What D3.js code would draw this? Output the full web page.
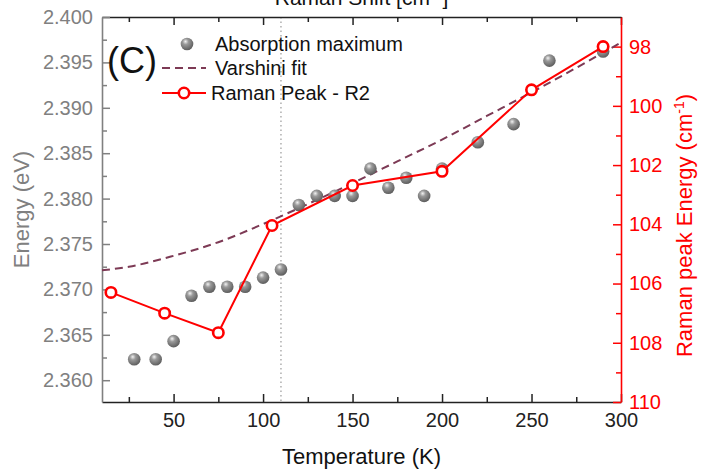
<!DOCTYPE html>
<html>
<head>
<meta charset="utf-8">
<script src="https://cdn.jsdelivr.net/npm/d3@7"></script>
<style>
  body { margin: 0; background: #fff; }
  svg { display: block; font-family: "Liberation Sans", Arial, sans-serif; }
</style>
</head>
<body>
<div id="chart"></div>
<script>
// absorption maximum (gray spheres), energy in eV
const absTemp = [28, 40, 50, 60, 70, 80, 90, 100, 110, 120, 130, 140, 150, 160, 170, 180, 190, 200, 220, 240, 260, 290];
const absEnergy = [2.3623, 2.3623, 2.3643, 2.3693, 2.3703, 2.3703, 2.3703, 2.3713, 2.3722, 2.3793, 2.3803, 2.3803, 2.3803,
  2.3833, 2.3812, 2.3823, 2.3803, 2.3833, 2.3862, 2.3882, 2.3952, 2.3962];

// Varshini fit (dashed)
const fitTemp = [10, 25, 50, 75, 100, 125, 150, 175, 200, 225, 250, 275, 300];
const fitEnergy = [2.3721, 2.3725, 2.3737, 2.3752, 2.3772, 2.3794, 2.3817, 2.3841, 2.3865, 2.3891, 2.3917, 2.3944, 2.3972];

// Raman peak R2 (right axis, cm-1)
const ramanTemp = [15, 45, 75, 105, 150, 200, 250, 290];
const ramanPeak = [106.3, 107.0, 107.66, 104.04, 102.69, 102.21, 99.46, 98.0];

const xTicks = [50, 100, 150, 200, 250, 300];
const xMinor = [25, 75, 125, 175, 225, 275];
const yTicks = [2.360, 2.365, 2.370, 2.375, 2.380, 2.385, 2.390, 2.395, 2.400];
const yMinor = [2.3625, 2.3675, 2.3725, 2.3775, 2.3825, 2.3875, 2.3925, 2.3975];
const rTicks = [98, 100, 102, 104, 106, 108, 110];
const rMinor = [99, 101, 103, 105, 107, 109];
const tempLine = 110;

const width = 701, height = 472;
const margin = {top: 17, right: 80, bottom: 70, left: 102};

const svg = d3.select("#chart").append("svg")
  .attr("width", width)
  .attr("height", height)
  .attr("viewBox", [0, 0, width, height]);

const x = d3.scaleLinear().domain([10, 300]).range([margin.left, width - margin.right]);
const y = d3.scaleLinear().domain([2.3576, 2.400]).range([height - margin.bottom, margin.top]);
const yR = d3.scaleLinear().domain([97, 110]).range([margin.top, height - margin.bottom]);

const defs = svg.append("defs");
const grad = defs.append("radialGradient")
  .attr("id", "ball").attr("cx", "40%").attr("cy", "35%").attr("r", "65%").attr("fx", "38%").attr("fy", "30%");
grad.append("stop").attr("offset", "0%").attr("stop-color", "#f2f2f2");
grad.append("stop").attr("offset", "35%").attr("stop-color", "#9a9a9a");
grad.append("stop").attr("offset", "100%").attr("stop-color", "#5e5e5e");

const x0 = margin.left, x1 = width - margin.right;
const y0 = height - margin.bottom, y1 = margin.top;

// dotted vertical marker
svg.append("line")
  .attr("x1", x(tempLine)).attr("x2", x(tempLine))
  .attr("y1", y1).attr("y2", y0)
  .attr("stroke", "#999").attr("stroke-width", 1.2)
  .attr("stroke-dasharray", "1.5,3");

// axes helper: draw major + minor ticks
function drawAxis(axisFn, scale, major, minor, transform, color, fmt, pad) {
  const g = svg.append("g").attr("transform", transform);
  g.call(axisFn(scale).tickValues(major).tickSizeInner(-8).tickSizeOuter(0).tickPadding(pad).tickFormat(fmt));
  g.append("g").call(axisFn(scale).tickValues(minor).tickSizeInner(-5).tickSizeOuter(0).tickFormat(""))
    .call(s => s.select(".domain").remove());
  g.selectAll("line").attr("stroke", color).attr("stroke-width", 1.5);
  g.selectAll(".domain").attr("stroke", color).attr("stroke-width", 1.6);
  g.selectAll("text").attr("fill", color).attr("font-size", 20).attr("font-family", "Liberation Sans, Arial, sans-serif");
  return g;
}

drawAxis(d3.axisBottom, x, xTicks, xMinor, `translate(0,${y0})`, "#222", d3.format("d"), 11);
drawAxis(d3.axisTop, x, xTicks, xMinor, `translate(0,${y1})`, "#222", () => "", 9)
  .selectAll("text").remove();
drawAxis(d3.axisLeft, y, yTicks, yMinor, `translate(${x0},0)`, "#808080", d3.format(".3f"), 9);
drawAxis(d3.axisRight, yR, rTicks, rMinor, `translate(${x1},0)`, "#ff0000", d3.format("d"), 8);

// Varshini fit
svg.append("path")
  .datum(fitTemp.map((t, i) => [t, fitEnergy[i]]))
  .attr("fill", "none")
  .attr("stroke", "#7d3a55")
  .attr("stroke-width", 2)
  .attr("stroke-dasharray", "8,5")
  .attr("d", d3.line().curve(d3.curveMonotoneX).x(d => x(d[0])).y(d => y(d[1])));

// absorption spheres
svg.append("g").selectAll("circle")
  .data(absTemp.map((t, i) => [t, absEnergy[i]]))
  .join("circle")
  .attr("cx", d => x(d[0])).attr("cy", d => y(d[1]))
  .attr("r", 6.3).attr("fill", "url(#ball)");

// Raman line + circles
svg.append("path")
  .datum(ramanTemp.map((t, i) => [t, ramanPeak[i]]))
  .attr("fill", "none").attr("stroke", "#ff0000").attr("stroke-width", 2)
  .attr("d", d3.line().x(d => x(d[0])).y(d => yR(d[1])));
svg.append("g").selectAll("circle")
  .data(ramanTemp.map((t, i) => [t, ramanPeak[i]]))
  .join("circle")
  .attr("cx", d => x(d[0])).attr("cy", d => yR(d[1]))
  .attr("r", 5.2).attr("fill", "#fff").attr("stroke", "#ff0000").attr("stroke-width", 2.6);

// axis titles
svg.append("text")
  .attr("x", (x0 + x1) / 2).attr("y", 464)
  .attr("text-anchor", "middle").attr("font-size", 22).attr("fill", "#111")
  .text("Temperature (K)");

svg.append("text")
  .attr("transform", `translate(29,${(y0 + y1) / 2}) rotate(-90)`)
  .attr("text-anchor", "middle").attr("font-size", 22).attr("fill", "#808080")
  .text("Energy (eV)");

const rt = svg.append("text")
  .attr("transform", `translate(692,${(y0 + y1) / 2 + 16}) rotate(-90)`)
  .attr("text-anchor", "middle").attr("font-size", 22).attr("fill", "#ff0000");
rt.append("tspan").text("Raman peak Energy (cm");
rt.append("tspan").attr("dy", -8).attr("font-size", 14).text("-1");
rt.append("tspan").attr("dy", 8).text(")");

const tt = svg.append("text")
  .attr("x", (x0 + x1) / 2).attr("y", 5)
  .attr("text-anchor", "middle").attr("font-size", 21).attr("fill", "#111");
tt.append("tspan").text("Raman Shift [cm");
tt.append("tspan").attr("dy", -8).attr("font-size", 14).text("-1");
tt.append("tspan").attr("dy", 8).text("]");

// panel label
svg.append("text")
  .attr("x", 107).attr("y", 73)
  .attr("font-size", 36).attr("fill", "#111")
  .text("(C)");

// legend
const lg = svg.append("g").attr("font-size", 20).attr("fill", "#111");
lg.append("circle").attr("cx", 187).attr("cy", 44).attr("r", 6.3).attr("fill", "url(#ball)");
lg.append("text").attr("x", 215).attr("y", 51).text("Absorption maximum");
lg.append("line").attr("x1", 162).attr("x2", 206).attr("y1", 68).attr("y2", 68)
  .attr("stroke", "#7d3a55").attr("stroke-width", 2).attr("stroke-dasharray", "8,5");
lg.append("text").attr("x", 215).attr("y", 75).text("Varshini fit");
lg.append("line").attr("x1", 162).attr("x2", 206).attr("y1", 93).attr("y2", 93)
  .attr("stroke", "#ff0000").attr("stroke-width", 2);
lg.append("circle").attr("cx", 184).attr("cy", 93).attr("r", 5.2)
  .attr("fill", "#fff").attr("stroke", "#ff0000").attr("stroke-width", 2.6);
lg.append("text").attr("x", 211).attr("y", 100).text("Raman Peak - R2");
</script>
</body>
</html>
